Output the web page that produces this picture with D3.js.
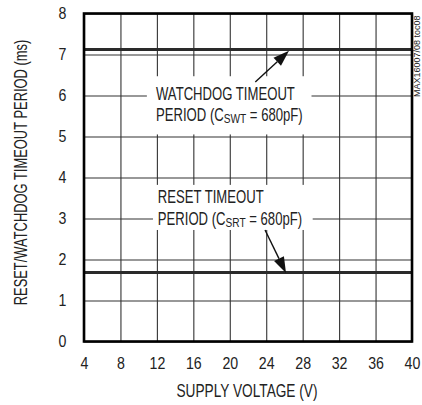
<!DOCTYPE html>
<html>
<head>
<meta charset="utf-8">
<script src="https://cdn.jsdelivr.net/npm/d3@7"></script>
<style>
  body { margin: 0; background: #fff; }
  text { font-family: "Liberation Sans", Arial, sans-serif; fill: #222; }
</style>
</head>
<body>
<div id="chart"></div>
<script>
// chart values
const xTicks = [4, 8, 12, 16, 20, 24, 28, 32, 36, 40];
const yTicks = [0, 1, 2, 3, 4, 5, 6, 7, 8];
const voltage = [4, 40];
const watchdogPeriod = [7.12, 7.12];
const resetPeriod = [1.68, 1.68];

const width = 422, height = 405;
const margin = {top: 13.5, left: 84, bottom: 63.5, right: 10};
const iwidth = width - margin.left - margin.right;
const iheight = height - margin.top - margin.bottom;
const narrow = 0.75; // no condensed font installed, squeeze horizontally

const svg = d3.select("#chart").append("svg")
  .attr("width", width)
  .attr("height", height);

const g = svg.append("g").attr("transform", `translate(${margin.left},${margin.top})`);

const x = d3.scaleLinear().domain([4, 40]).range([0, iwidth]);
const y = d3.scaleLinear().domain([0, 8]).range([iheight, 0]);

// grid
g.append("g")
  .call(d3.axisBottom(x).tickValues(xTicks).tickSize(-iheight).tickFormat(""))
  .attr("transform", `translate(0,${iheight})`)
  .call(a => a.select(".domain").remove())
  .selectAll("line").attr("stroke", "#333").attr("stroke-width", 1.1);

g.append("g")
  .call(d3.axisLeft(y).tickValues(yTicks).tickSize(-iwidth).tickFormat(""))
  .call(a => a.select(".domain").remove())
  .selectAll("line").attr("stroke", "#333").attr("stroke-width", 1.1);

// tick labels
g.append("g")
  .call(d3.axisBottom(x).tickValues(xTicks).tickSize(0).tickPadding(16))
  .attr("transform", `translate(0,${iheight})`)
  .call(a => a.select(".domain").remove())
  .selectAll("text").attr("font-size", 16.5).attr("font-family", null)
  .attr("fill", "#222").attr("transform", "scale(0.86,1)");

g.append("g")
  .call(d3.axisLeft(y).tickValues(yTicks).tickSize(0).tickPadding(20.5))
  .call(a => a.select(".domain").remove())
  .selectAll("text").attr("font-size", 16.5).attr("font-family", null)
  .attr("fill", "#222").attr("transform", "scale(0.86,1)");

// white boxes behind annotations
const boxes = [
  {x0: 10.9, x1: 28.97, y0: 6.47, y1: 5.05},
  {x0: 11.57, x1: 29.1, y0: 3.82, y1: 2.72}
];
g.selectAll("rect.box").data(boxes).enter().append("rect")
  .attr("class", "box")
  .attr("x", d => x(d.x0))
  .attr("y", d => y(d.y0))
  .attr("width", d => x(d.x1) - x(d.x0))
  .attr("height", d => y(d.y1) - y(d.y0))
  .attr("fill", "#fff");

// data lines
const line = d3.line().x(d => x(d[0])).y(d => y(d[1]));
[watchdogPeriod, resetPeriod].forEach(s => {
  g.append("path")
    .datum(voltage.map((v, i) => [v, s[i]]))
    .attr("d", line)
    .attr("fill", "none")
    .attr("stroke", "#2a2a2a")
    .attr("stroke-width", 3);
});

// border
g.append("rect")
  .attr("width", iwidth).attr("height", iheight)
  .attr("fill", "none").attr("stroke", "#000").attr("stroke-width", 2.6);

// annotations
function label(x0, y0, parts) {
  const t = g.append("g")
    .attr("transform", `translate(${x(x0)},${y(y0)}) scale(${narrow},1)`)
    .append("text").attr("font-size", 17.5);
  parts.forEach(p => {
    const ts = t.append("tspan").text(p.t);
    if (p.sub) ts.attr("font-size", 13.5).attr("dy", 2);
    if (p.up) ts.attr("dy", -2);
  });
}
label(11.9, 5.9, [{t: "WATCHDOG TIMEOUT"}]);
label(11.9, 5.38, [{t: "PERIOD (C"}, {t: "SWT", sub: true}, {t: " = 680pF)", up: true}]);
label(12.1, 3.38, [{t: "RESET TIMEOUT"}]);
label(12.1, 2.84, [{t: "PERIOD (C"}, {t: "SRT", sub: true}, {t: " = 680pF)", up: true}]);

function arrow(a, b) {
  const x1 = x(a[0]), y1 = y(a[1]), x2 = x(b[0]), y2 = y(b[1]);
  const ang = Math.atan2(y2 - y1, x2 - x1);
  const len = 16, half = 5.5;
  const bx = x2 - len * Math.cos(ang), by = y2 - len * Math.sin(ang);
  g.append("line").attr("x1", x1).attr("y1", y1).attr("x2", bx).attr("y2", by)
    .attr("stroke", "#111").attr("stroke-width", 1.4);
  const pts = [[x2, y2],
    [bx + half * Math.sin(ang), by - half * Math.cos(ang)],
    [bx - half * Math.sin(ang), by + half * Math.cos(ang)]];
  g.append("polygon").attr("points", pts.map(p => p.join(",")).join(" ")).attr("fill", "#111");
}
arrow([22.8, 6.33], [26.5, 7.09]);
arrow([23.87, 2.72], [26.17, 1.67]);

// axis titles
svg.append("g")
  .attr("transform", `translate(${margin.left + iwidth / 2 - 1},397) scale(0.76,1)`)
  .append("text")
  .attr("text-anchor", "middle")
  .attr("font-size", 18)
  .text("SUPPLY VOLTAGE (V)");

svg.append("g")
  .attr("transform", `translate(27,172.5) rotate(-90) scale(0.68,1)`)
  .append("text")
  .attr("text-anchor", "middle")
  .attr("font-size", 19)
  .text("RESET/WATCHDOG TIMEOUT PERIOD (ms)");

svg.append("text")
  .attr("transform", `translate(420,97) rotate(-90)`)
  .attr("font-size", 9)
  .attr("fill", "#333")
  .text("MAX16007/08 toc08");
</script>
</body>
</html>
